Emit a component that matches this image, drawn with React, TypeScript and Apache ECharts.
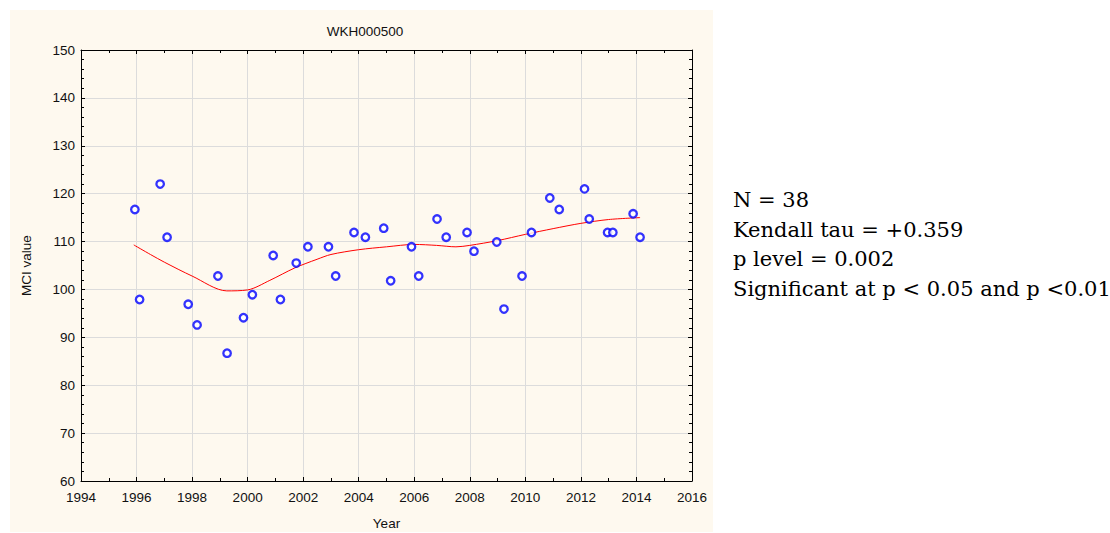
import React, { useEffect, useRef } from "react";
import * as echarts from "echarts";

const pointYears: number[] = [
  1995.94, 1996.11, 1996.85, 1997.1, 1997.86, 1998.18, 1998.93, 1999.26, 1999.85, 2000.17,
  2000.92, 2001.18, 2001.75, 2002.17, 2002.91, 2003.17, 2003.83, 2004.24, 2004.9, 2005.15,
  2005.9, 2006.16, 2006.82, 2007.15, 2007.9, 2008.15, 2008.97, 2009.23, 2009.88, 2010.22,
  2010.88, 2011.22, 2012.13, 2012.3, 2012.96, 2013.15, 2013.88, 2014.13,
];
const pointValues: number[] = [
  116.7, 97.9, 122.0, 110.9, 96.9, 92.6, 102.8, 86.7, 94.1, 98.9,
  107.1, 97.9, 105.5, 108.9, 108.9, 102.8, 111.9, 110.9, 112.8, 101.8,
  108.9, 102.8, 114.7, 110.9, 111.9, 108.0, 109.9, 95.9, 102.8, 111.9,
  119.1, 116.7, 121.0, 114.7, 111.9, 111.9, 115.8, 110.9,
];
const trendYears: number[] = [
  1995.9, 1996.5, 1997, 1998, 1999.25, 2000, 2000.8, 2001.7, 2002.5, 2003, 2004, 2005,
  2006, 2006.8, 2007.5, 2008, 2009, 2010, 2011, 2012, 2013, 2014.13,
];
const trendValues: number[] = [
  109.3, 107.3, 105.7, 102.8, 99.7, 99.9, 101.9, 104.5, 106.3, 107.3, 108.3, 108.9,
  109.4, 109.2, 108.9, 109.2, 110.2, 111.5, 112.7, 113.8, 114.6, 115.0,
];
const statLines: string[] = [
  "N = 38",
  "Kendall tau = +0.359",
  "p level = 0.002",
  "Significant at p < 0.05 and p <0.01",
];
const titleText = "WKH000500";
const xName = "Year";
const yName = "MCI value";

export default function App() {
  const ref = useRef<HTMLDivElement>(null);
  useEffect(() => {
    if (!ref.current) return;
    const chart = echarts.init(ref.current, undefined, { renderer: "svg" });
    const font = "'Liberation Sans', Arial, sans-serif";
    const fs = 13.5;
    const axisBase = {
      type: "value" as const,
      axisLine: { show: true, lineStyle: { color: "#000", width: 1 } },
      axisTick: { show: true, inside: true, length: 4, lineStyle: { color: "#000" } },
      minorTick: { show: true, length: 3, lineStyle: { color: "#000" } },
    };
    chart.setOption({
      animation: false,
      backgroundColor: "#ffffff",
      grid: { left: 81, top: 50, right: 418, bottom: 52, containLabel: false, outerBoundsMode: "none" },
      graphic: [
        { type: "rect", z: -10, silent: true, shape: { x: 10, y: 10, width: 703, height: 522 }, style: { fill: "#fef9ef" } },
        { type: "text", x: 365, y: 31, style: { text: titleText, fontFamily: font, fontSize: fs, fill: "#111", textAlign: "center", textVerticalAlign: "middle" } },
        ...statLines.map((t, i) => ({
          type: "text",
          x: 733,
          y: 200 + i * 29.7,
          style: { text: t, fontFamily: "'DejaVu Serif', 'Liberation Serif', serif", fontSize: 21, fill: "#000", textVerticalAlign: "middle" },
        })),
      ],
      xAxis: [
        {
          ...axisBase,
          position: "bottom",
          min: 1994,
          max: 2016,
          interval: 2,
          minorTick: { ...axisBase.minorTick, splitNumber: 2 },
          splitLine: { show: true, lineStyle: { color: "#dcdcdc", width: 1 } },
          axisLabel: { color: "#111", fontFamily: font, fontSize: fs, margin: 9, formatter: (v: number) => String(v) },
          name: xName,
          nameLocation: "middle",
          nameGap: 35,
          nameTextStyle: { color: "#111", fontFamily: font, fontSize: fs },
        },
        {
          ...axisBase,
          position: "top",
          min: 1994,
          max: 2016,
          interval: 2,
          minorTick: { ...axisBase.minorTick, splitNumber: 2 },
          splitLine: { show: false },
          axisLabel: { show: false },
        },
      ],
      yAxis: [
        {
          ...axisBase,
          position: "left",
          min: 60,
          max: 150,
          interval: 10,
          minorTick: { ...axisBase.minorTick, splitNumber: 5 },
          splitLine: { show: true, lineStyle: { color: "#dcdcdc", width: 1 } },
          axisLabel: { color: "#111", fontFamily: font, fontSize: fs, margin: 6, formatter: (v: number) => String(v) },
          name: yName,
          nameLocation: "middle",
          nameGap: 48,
          nameTextStyle: { color: "#111", fontFamily: font, fontSize: fs },
        },
        {
          ...axisBase,
          position: "right",
          min: 60,
          max: 150,
          interval: 10,
          minorTick: { ...axisBase.minorTick, splitNumber: 5 },
          splitLine: { show: false },
          axisLabel: { show: false },
        },
      ],
      series: [
        {
          type: "line",
          data: trendYears.map((x, i) => [x, trendValues[i]]),
          showSymbol: false,
          symbol: "none",
          smooth: 0.3,
          lineStyle: { color: "#ff0000", width: 1 },
          z: 2,
        },
        {
          type: "scatter",
          data: pointYears.map((x, i) => [x, pointValues[i]]),
          symbol: "circle",
          symbolSize: 7.5,
          itemStyle: { color: "#ffffff", borderColor: "#0000ff", borderWidth: 2.3 },
          z: 3,
        },
      ],
    });
    return () => chart.dispose();
  }, []);
  return <div ref={ref} style={{ position: "fixed", left: 0, top: 0, width: 1110, height: 533 }} />;
}
